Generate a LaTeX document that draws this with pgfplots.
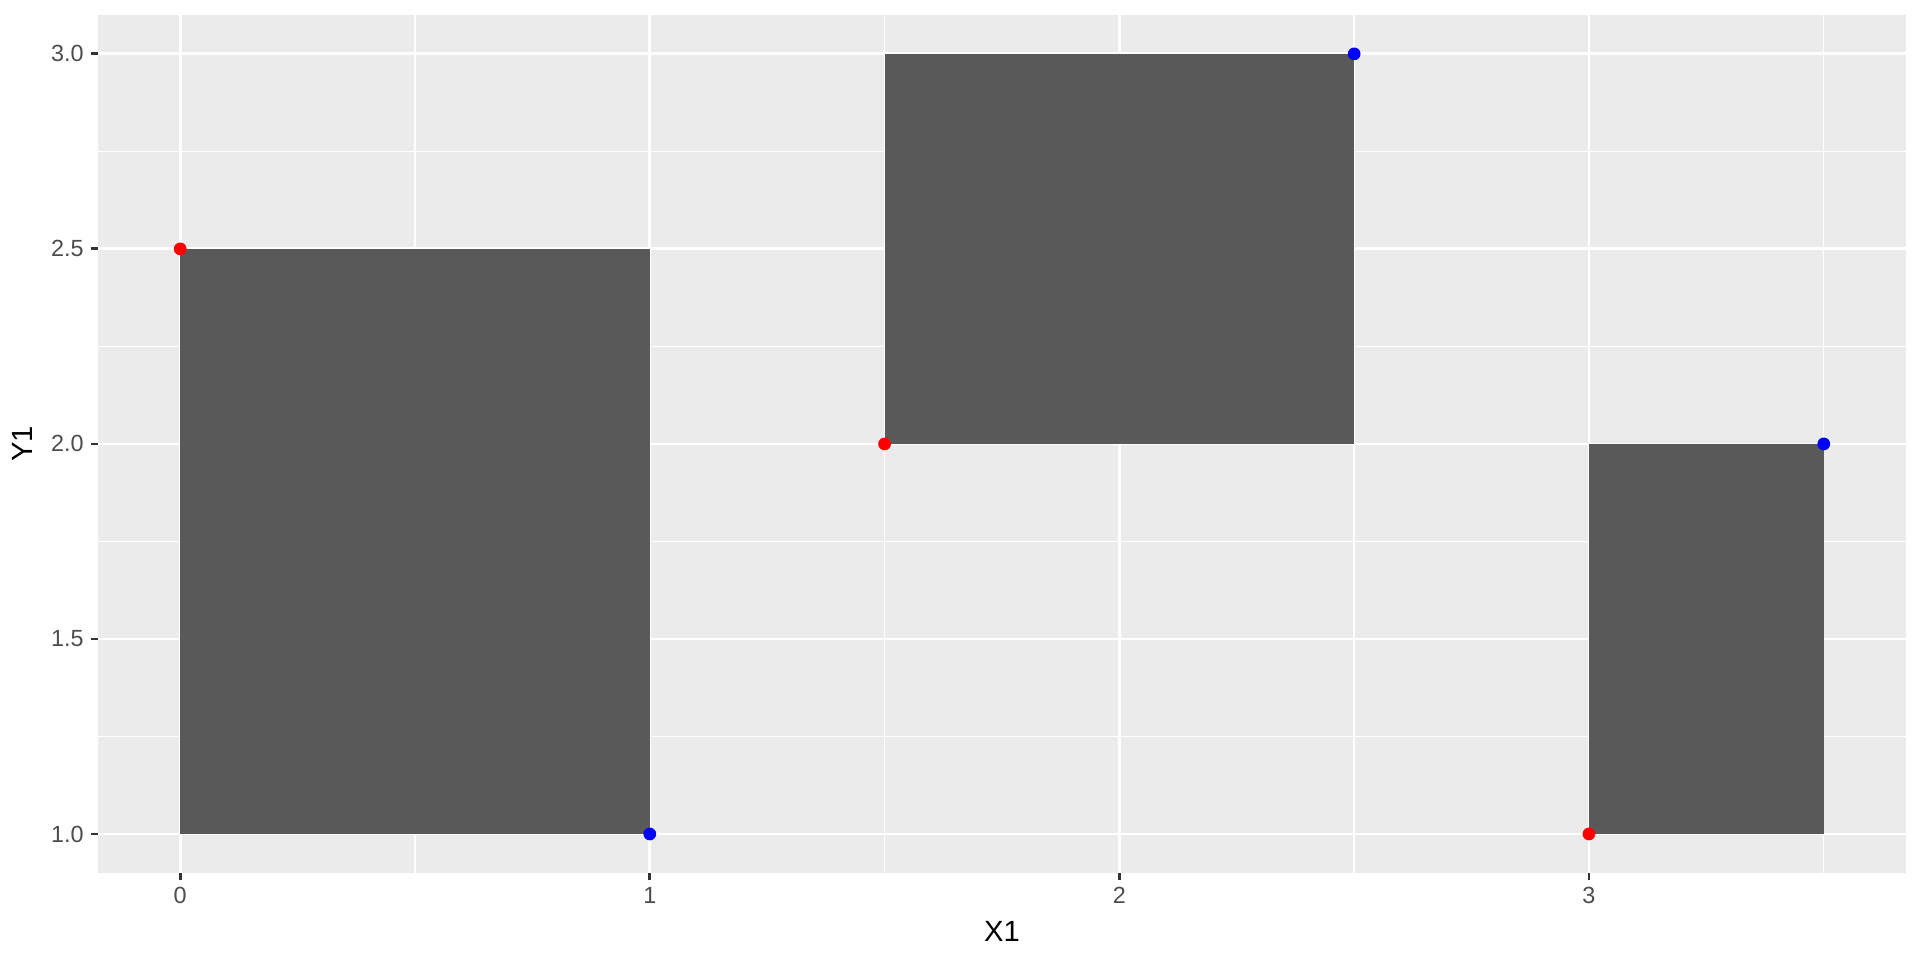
\documentclass[border=0pt]{standalone}
\usepackage{pgfplots}
\pgfplotsset{compat=1.18}
\usepackage{fontspec}
\setmainfont{Liberation Sans}
\definecolor{panel}{HTML}{EBEBEB}
\definecolor{rectc}{HTML}{595959}
\definecolor{ticklab}{HTML}{4D4D4D}
\definecolor{tickc}{HTML}{333333}
\begin{document}
\begin{tikzpicture}
\begin{axis}[
  scale only axis,
  width=680.5pt, height=323pt,
  xmin=-0.175, xmax=3.675, ymin=0.9, ymax=3.1,
  clip=false,
  axis background/.style={fill=panel},
  axis line style={draw=none},
  tick pos=left,
  tick align=outside,
  xtick={0,1,2,3}, ytick={1,1.5,2,2.5,3},
  minor xtick={0.5,1.5,2.5,3.5},
  minor ytick={1.25,1.75,2.25,2.75},
  xticklabels={0,1,2,3},
  yticklabels={1.0,1.5,2.0,2.5,3.0},
  grid=both,
  major grid style={white, line width=1.07pt},
  minor grid style={white, line width=0.53pt},
  major tick length=2.75pt,
  minor tick length=0pt,
  major tick style={tickc, line width=1.07pt},
  ticklabel style={font=\fontsize{8.8}{10}\selectfont, text=ticklab, inner sep=0pt},
  xticklabel style={anchor=north, yshift=-2.5pt},
  yticklabel style={anchor=east, xshift=-2.5pt},
  xlabel={X1}, ylabel={Y1},
  label style={font=\fontsize{11}{13}\selectfont, text=black, inner sep=0pt},
  xlabel style={at={(axis description cs:0.5,-0.0676)}, anchor=center},
  ylabel style={at={(axis description cs:-0.0420,0.5)}, anchor=center},
]
\path ([xshift=-36.9pt,yshift=-32.7pt]rel axis cs:0,0) rectangle ([xshift=5.3pt,yshift=5.6pt]rel axis cs:1,1);
\addplot[fill=rectc, draw=none] coordinates {(0,1) (1,1) (1,2.5) (0,2.5)} -- cycle;
\addplot[fill=rectc, draw=none] coordinates {(1.5,2) (2.5,2) (2.5,3) (1.5,3)} -- cycle;
\addplot[fill=rectc, draw=none] coordinates {(3,1) (3.5,1) (3.5,2) (3,2)} -- cycle;
\addplot[only marks, mark=*, mark size=2.2pt, color=red, mark options={draw=red, fill=red}] coordinates {(0,2.5) (1.5,2) (3,1)};
\addplot[only marks, mark=*, mark size=2.2pt, color=blue, mark options={draw=blue, fill=blue}] coordinates {(1,1) (2.5,3) (3.5,2)};
\end{axis}
\end{tikzpicture}
\end{document}
